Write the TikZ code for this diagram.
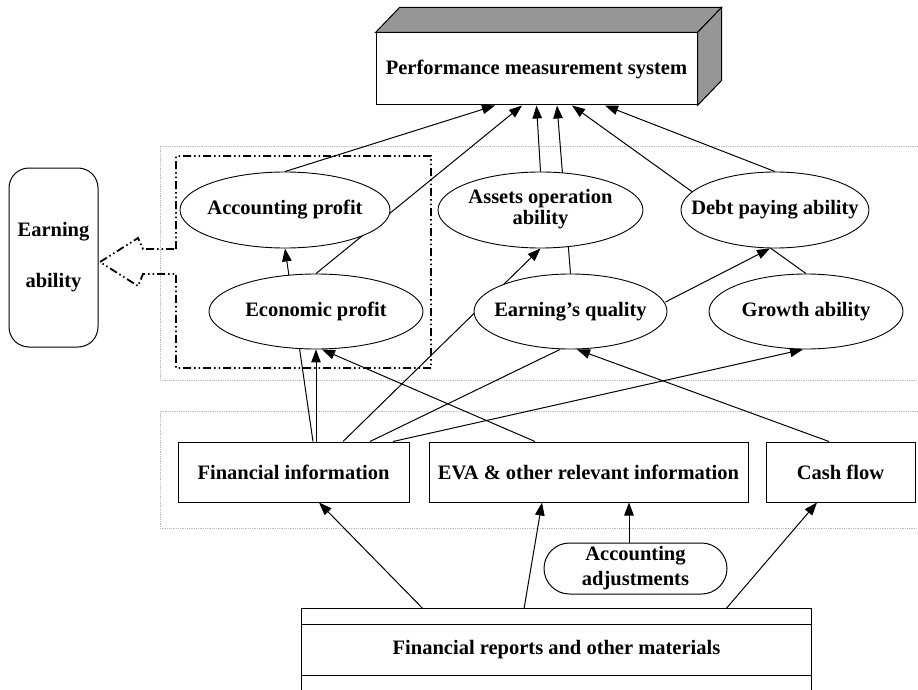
\documentclass[tikz,border=0pt]{standalone}
\usepackage{fontspec}
\setmainfont{Liberation Serif}
\usetikzlibrary{arrows.meta,calc,shapes.geometric}
\pgfdeclarelayer{bg}
\pgfsetlayers{bg,main}
\newcommand\zw[1]{\makebox[0pt]{#1}}
\definecolor{boxgray}{RGB}{150,150,150}
\definecolor{regiongray}{RGB}{185,185,185}
\begin{document}
\begin{tikzpicture}[x=1pt,y=-1pt,
  every node/.style={font=\fontsize{20.5}{21}\selectfont\bfseries, inner sep=2pt},
  box/.style={draw, fill=white, line width=1pt, rectangle},
  oval/.style={draw, fill=white, line width=0.9pt, ellipse, inner sep=0pt},
  conn/.style={line width=1pt},
  arr/.style={conn, -{Triangle[length=13pt,width=9.5pt]}},
  region/.style={regiongray, line width=0.8pt, densely dotted},
  dashdot/.style={line width=1.8pt, dash pattern=on 8pt off 3pt on 1.5pt off 3pt on 1.5pt off 3pt}
]
\useasboundingbox (0,0) rectangle (918,690);

% top box
\node[box, minimum width=321pt, minimum height=72pt] (pms) at (536.5,69) {Performance measurement system};
\draw[line width=1pt, fill=boxgray] (pms.north west) -- ++(24,-25) -- ($(pms.north east)+(24,-25)$) -- (pms.north east) -- cycle;
\draw[line width=1pt, fill=boxgray] (pms.north east) -- ++(24,-25) -- ($(pms.south east)+(24,-25)$) -- (pms.south east) -- cycle;

% earning ability
\node[box, rounded corners=20pt, minimum width=89pt, minimum height=179pt, align=center] (earn) at (53.5,257.5) {Earning\\[30pt]ability};

% ellipses
\node[oval, minimum width=210pt, minimum height=76pt] (acc) at (285,210) {\zw{Accounting profit}};
\node[oval, minimum width=214pt, minimum height=75pt] (eco) at (316,311.5) {\zw{Economic profit}};
\node[oval, minimum width=205pt, minimum height=76pt] (aop) at (540.5,210) {\zw{\begin{tabular}{@{}c@{}}Assets operation\\ability\end{tabular}}};
\node[oval, minimum width=188pt, minimum height=76pt] (debt) at (775,210) {\zw{Debt paying ability}};
\node[oval, minimum width=193pt, minimum height=75pt] (eq) at (570.5,311.5) {\zw{Earning’s quality}};
\node[oval, minimum width=194pt, minimum height=75pt] (grow) at (806,311.5) {\zw{Growth ability}};

% info boxes
\node[box, minimum width=231pt, minimum height=60pt] (fin) at (293.5,472) {Financial information};
\node[box, minimum width=319pt, minimum height=60pt] (eva) at (588.5,472) {EVA \& other relevant information};
\node[box, minimum width=149pt, minimum height=60pt] (cash) at (840.5,472) {Cash flow};
\node[box, rounded corners=25.5pt, minimum width=183pt, minimum height=51pt, align=center] (adj) at (635.5,568.5) {Accounting\\[4pt]adjustments};

% reports
\node[minimum width=509pt, minimum height=81pt] (rep) at (556.5,649.5) {Financial reports and other materials};
\draw[line width=1pt] (rep.south west) -- (rep.north west) -- (rep.north east) -- (rep.south east);
\draw[line width=1pt] ($(rep.north west)+(0,16)$) -- ($(rep.north east)+(0,16)$);
\draw[line width=1pt] ($(rep.north west)+(0,67)$) -- ($(rep.north east)+(0,67)$);

% dash-dot group with hollow arrow
\draw[dashdot] (176,249) -- (176,156) -- (431,156) -- (431,368) -- (176,368) -- (176,274) -- (143,274) -- (138,286) -- (100,262) -- (138,238) -- (143,249) -- cycle;

\begin{pgfonlayer}{bg}
\fill[white] (0,0) rectangle (918,690);
\draw[region] (925,146) -- (160,146) -- (160,380) -- (925,380);
\draw[region] (925,411) -- (160,411) -- (160,528) -- (925,528);

\draw[arr] (acc.north) -- ($(pms.south)+(-41.5,0)$);
\draw[arr] (eco.north) -- ($(pms.south)+(-14.5,0)$);
\draw[arr] (aop.north) -- (pms.south);
\draw[arr] (eq.north) -- ($(pms.south)+(20.5,0)$);
\draw[arr] (grow.north) -- ($(pms.south)+(35.5,0)$);
\draw[arr] (debt.north) -- ($(pms.south)+(68.5,0)$);

\draw[arr] ($(fin.north)+(19.5,0)$) -- (acc.south);
\draw[arr] ($(fin.north)+(22.5,0)$) -- (eco.south);
\draw[arr] ($(fin.north)+(49.5,0)$) -- (aop.south);
\draw[conn] ($(fin.north)+(76.5,0)$) -- ($(eq.south)+(-10.5,0)$);
\draw[arr] ($(fin.north)+(99.5,0)$) -- ($(grow.south)+(-3,0)$);
\draw[arr] ($(eva.north)+(-53.5,0)$) -- ($(eco.south)+(6,0)$);
\draw[arr] ($(cash.north)+(-11.5,0)$) -- ($(eq.south)+(6.5,0)$);
\draw[arr] ($(eq.east)+(-2,-9.5)$) -- ($(debt.south)+(-5,0)$);

\draw[arr] ($(rep.north)+(-133.5,0)$) -- ($(fin.south)+(25.5,0)$);
\draw[arr] ($(rep.north)+(-32.5,0)$) -- ($(eva.south)+(-46.5,0)$);
\draw[arr] ($(adj.north)+(-6.5,0)$) -- ($(eva.south)+(40.5,0)$);
\draw[arr] ($(rep.north)+(169.5,0)$) -- ($(cash.south)+(-23.5,0)$);
\end{pgfonlayer}
\end{tikzpicture}
\end{document}
